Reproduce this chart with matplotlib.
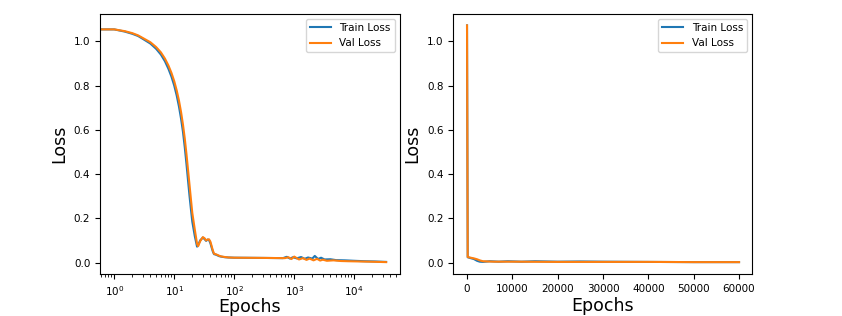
import numpy as np
import matplotlib
matplotlib.use('Agg')
import matplotlib.pyplot as plt

# Left panel (log scale epochs)
ep_log_train = [0.5, 1, 1.5, 2, 2.5, 3, 4, 5, 6, 7, 8, 9, 10, 11, 12, 13, 14, 15, 16, 17, 18, 19,
                20, 22, 24, 25, 27, 30, 32, 34, 36, 38, 40, 42, 44, 46, 49, 52, 56, 60, 70, 80,
                100, 300, 650, 750, 850, 950, 1100, 1300, 1500, 1700, 2000, 2200, 2500, 2800,
                3200, 4000, 5000, 7000, 10000, 15000, 22000, 34000]
loss_log_train = [1.054, 1.054, 1.044, 1.034, 1.024, 1.011, 0.990, 0.966, 0.940, 0.910, 0.876,
                  0.840, 0.800, 0.755, 0.705, 0.650, 0.590, 0.520, 0.445, 0.370, 0.300, 0.240,
                  0.185, 0.120, 0.072, 0.078, 0.100, 0.113, 0.106, 0.098, 0.104, 0.102, 0.088,
                  0.068, 0.050, 0.038, 0.036, 0.033, 0.029, 0.027, 0.024, 0.023,
                  0.022, 0.021, 0.020, 0.026, 0.018, 0.024, 0.019, 0.025, 0.017, 0.023, 0.018,
                  0.030, 0.016, 0.022, 0.014, 0.015, 0.011, 0.010, 0.008, 0.006, 0.005, 0.003]

ep_log_val = [0.5, 1, 1.5, 2, 2.5, 3, 4, 5, 6, 7, 8, 9, 10, 11, 12, 13, 14, 15, 16, 17, 18, 19,
              20, 22, 24, 25, 27, 30, 32, 34, 36, 38, 40, 42, 44, 46, 49, 52, 56, 60, 70, 80,
              100, 300, 700, 800, 900, 1000, 1200, 1400, 1600, 1800, 2100, 2400, 2700, 3000,
              3500, 4500, 6000, 8000, 12000, 18000, 25000, 34000]
loss_log_val = [1.054, 1.054, 1.046, 1.037, 1.027, 1.015, 0.996, 0.974, 0.950, 0.922, 0.891,
                0.857, 0.820, 0.778, 0.732, 0.680, 0.623, 0.560, 0.490, 0.418, 0.350, 0.285,
                0.225, 0.150, 0.085, 0.074, 0.096, 0.115, 0.110, 0.100, 0.104, 0.105, 0.095,
                0.075, 0.055, 0.040, 0.038, 0.035, 0.031, 0.028, 0.025, 0.023,
                0.022, 0.021, 0.020, 0.024, 0.016, 0.027, 0.014, 0.020, 0.012, 0.018, 0.010,
                0.017, 0.009, 0.013, 0.008, 0.010, 0.007, 0.006, 0.005, 0.004, 0.003, 0.002]

# Right panel (linear epochs)
ep_lin_train = [0, 150, 800, 1500, 2200, 2800, 3500, 5000, 7000, 9000, 12000, 15000, 20000,
                25000, 30000, 40000, 50000, 60000]
loss_lin_train = [1.072, 0.024, 0.020, 0.016, 0.008, 0.004, 0.003, 0.006, 0.004, 0.006, 0.004,
                  0.006, 0.004, 0.005, 0.004, 0.003, 0.002, 0.002]

ep_lin_val = [0, 150, 800, 1500, 2200, 2800, 3500, 4500, 6000, 10000, 20000, 30000, 40000,
              50000, 60000]
loss_lin_val = [1.072, 0.025, 0.022, 0.019, 0.015, 0.010, 0.006, 0.005, 0.004, 0.004, 0.003,
                0.003, 0.003, 0.002, 0.002]

fig = plt.figure(figsize=(8.42, 3.16), dpi=100)
ax1 = fig.add_axes([0.1188, 0.132, 0.3563, 0.8247])
ax2 = fig.add_axes([0.5384, 0.132, 0.3551, 0.8247])

ax1.plot(ep_log_train, loss_log_train, color='C0', lw=1.5, label='Train Loss')
ax1.plot(ep_log_val, loss_log_val, color='C1', lw=1.5, label='Val Loss')
ax1.set_xscale('log')
ax1.set_xlim(0.58, 5.8e4)

ax2.plot(ep_lin_train, loss_lin_train, color='C0', lw=1.5, label='Train Loss')
ax2.plot(ep_lin_val, loss_lin_val, color='C1', lw=1.5, label='Val Loss')
ax2.set_xlim(-3020, 62930)

for ax, pad in ((ax1, 0), (ax2, 2)):
    ax.set_ylim(-0.053, 1.125)
    ax.set_xlabel('Epochs', fontsize=12.5, labelpad=pad)
    ax.set_ylabel('Loss', fontsize=12.5)
    ax.tick_params(labelsize=7.5)
    ax.legend(loc='upper right', fontsize=7.5)

fig.savefig('out.png', dpi=100)
